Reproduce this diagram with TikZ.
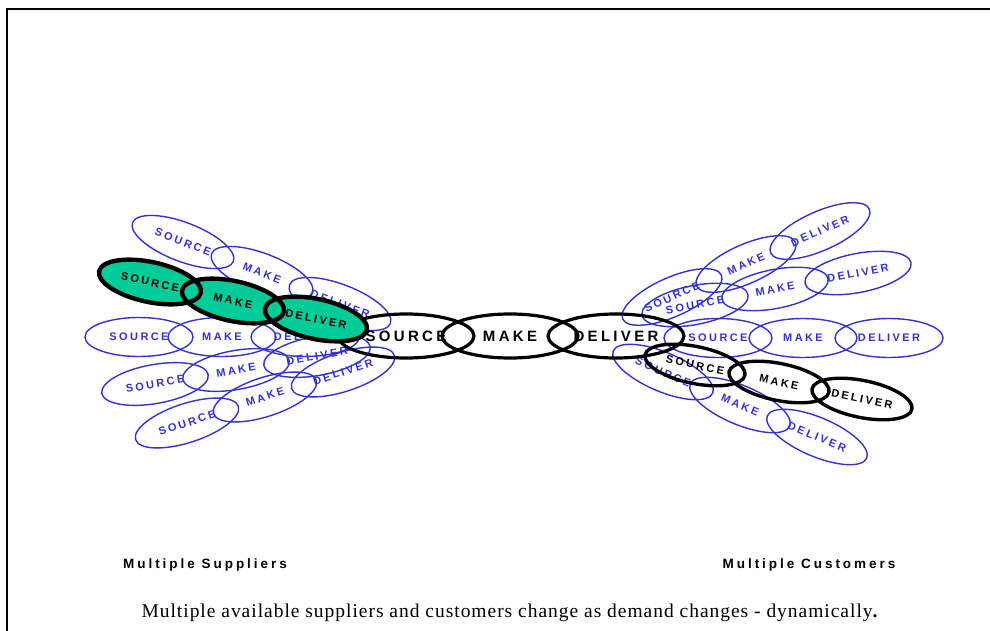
\documentclass[tikz,border=0pt]{standalone}
\usepackage{fontspec}
\setmainfont{Liberation Serif}
\newfontfamily\ovalfont[LetterSpace=22]{Liberation Sans}
\newfontfamily\sidefont[LetterSpace=22]{Liberation Sans}
\newfontfamily\notefont[LetterSpace=5]{Liberation Serif}
\usetikzlibrary{shapes.geometric}

\definecolor{linkblue}{RGB}{51,51,204}
\definecolor{linkgreen}{RGB}{0,204,153}

\tikzset{
  oval/.style={ellipse, inner sep=0pt, font=\ovalfont\bfseries\fontsize{11}{11}\selectfont},
  blueoval/.style={oval, draw=linkblue, line width=1.4pt, text=linkblue,
    minimum width=108pt, minimum height=39pt},
  mainoval/.style={oval, draw=black, line width=3.2pt,
    minimum width=136pt, minimum height=44pt, font=\ovalfont\bfseries\fontsize{15}{15}\selectfont},
  blackoval/.style={oval, draw=black, line width=3.4pt,
    minimum width=102pt, minimum height=37pt},
  greenoval/.style={oval, fill=linkgreen,
    minimum width=104pt, minimum height=40pt},
  greenring/.style={oval, draw=black, line width=4.4pt,
    minimum width=104pt, minimum height=40pt},
  sidelabel/.style={font=\sidefont\bfseries\fontsize{13.5}{14}\selectfont},
}

\begin{document}
\begin{tikzpicture}[x=1pt, y=-1pt]
  \useasboundingbox (0,0) rectangle (990,631);

  % frame
  \draw[line width=2pt] (7,631) -- (7,9) -- (990,9);

  % suppliers (left)
  \node[blueoval, rotate=-21] (s1a) at (183,242) {SOURCE};
  \node[blueoval, rotate=-21] (s1b) at (262,273) {MAKE};
  \node[blueoval, rotate=-21] (s1c) at (340,304) {DELIVER};

  \node[blueoval] (s3a) at (139,337) {SOURCE};
  \node[blueoval] (s3b) at (222,337) {MAKE};
  \node[blueoval] (s3c) at (305,337) {DELIVER};

  \node[blueoval, rotate=10] (s4a) at (155,384) {SOURCE};
  \node[blueoval, rotate=10] (s4b) at (236,370) {MAKE};
  \node[blueoval, rotate=10] (s4c) at (317,356) {DELIVER};

  \node[blueoval, rotate=18] (s5a) at (187,423) {SOURCE};
  \node[blueoval, rotate=18] (s5b) at (265,397) {MAKE};
  \node[blueoval, rotate=18] (s5c) at (343,372) {DELIVER};

  % customers (right)
  \node[blueoval, rotate=24] (c1a) at (672,297) {SOURCE};
  \node[blueoval, rotate=24] (c1b) at (746,264) {MAKE};
  \node[blueoval, rotate=24] (c1c) at (820,231) {DELIVER};

  \node[blueoval, rotate=11] (c2a) at (695,305) {SOURCE};
  \node[blueoval, rotate=11] (c2b) at (775,289) {MAKE};
  \node[blueoval, rotate=11] (c2c) at (858,273) {DELIVER};

  \node[blueoval] (c3a) at (718,338) {SOURCE};
  \node[blueoval] (c3b) at (803,338) {MAKE};
  \node[blueoval] (c3c) at (889,338) {DELIVER};

  \node[blueoval, rotate=-23] (c5a) at (663,372) {SOURCE};
  \node[blueoval, rotate=-23] (c5b) at (740,405) {MAKE};
  \node[blueoval, rotate=-23] (c5c) at (817,437) {DELIVER};

  % the main chain
  \node[mainoval] (source) at (406,336) {SOURCE};
  \node[mainoval] (make) at (510,336) {MAKE};
  \node[mainoval] (deliver) at (616,336) {DELIVER};

  % active customer
  \node[blackoval, rotate=-11.5] (c4a) at (695,365) {SOURCE};
  \node[blackoval, rotate=-11.5] (c4b) at (779,382) {MAKE};
  \node[blackoval, rotate=-11.5] (c4c) at (862,399) {DELIVER};

  % active supplier: fill first, rings on top
  \node[greenoval, rotate=-12] (s2a) at (150,282) {SOURCE};
  \node[greenoval, rotate=-12] (s2b) at (233,301) {MAKE};
  \node[greenoval, rotate=-12] (s2c) at (316,319) {DELIVER};
  \foreach \n in {s2a,s2b,s2c}
    \node[greenring, rotate=-12] at (\n.center) {};

  \node[sidelabel] (suppliers) at (205,565) {Multiple Suppliers};
  \node[sidelabel] (customers) at (809,565) {Multiple Customers};

  \node[font=\notefont\fontsize{19.5}{20}\selectfont] (note) at (510,613)
    {Multiple available suppliers and customers change as demand changes - dynamically\textbf{.}};
\end{tikzpicture}
\end{document}
